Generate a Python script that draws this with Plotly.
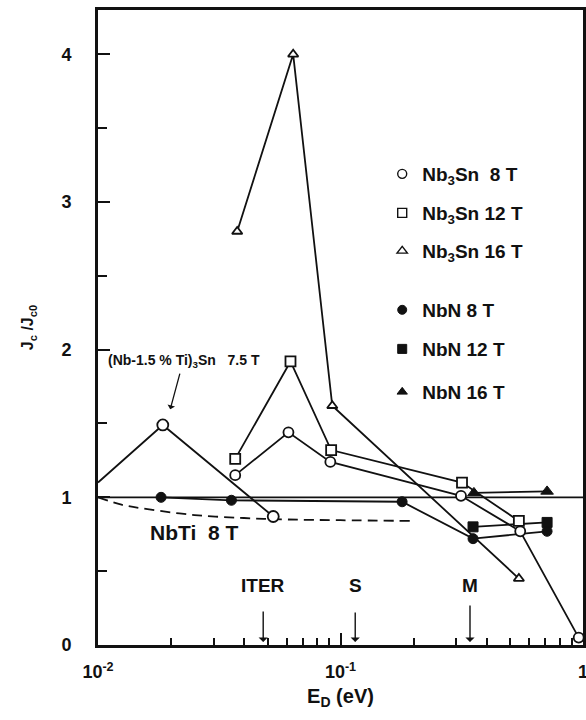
import math
import plotly.graph_objects as go

# Critical current ratio Jc/Jc0 versus damage energy E_D
NB3SN_8T_X = [0.0368, 0.061, 0.0908, 0.314, 0.551, 0.96]
NB3SN_8T_Y = [1.15, 1.44, 1.24, 1.01, 0.77, 0.05]
NB3SN_12T_X = [0.0368, 0.0622, 0.0915, 0.317, 0.544]
NB3SN_12T_Y = [1.26, 1.92, 1.32, 1.10, 0.84]
NB3SN_16T_X = [0.0375, 0.0638, 0.0925, 0.544]
NB3SN_16T_Y = [2.80, 4.00, 1.62, 0.45]
NBN_8T_X = [0.0182, 0.0355, 0.1795, 0.352, 0.711]
NBN_8T_Y = [1.00, 0.98, 0.97, 0.72, 0.77]
NBN_12T_X = [0.352, 0.711]
NBN_12T_Y = [0.80, 0.83]
NBN_16T_X = [0.355, 0.711]
NBN_16T_Y = [1.03, 1.04]
NBTI_SN_X = [0.01, 0.0185, 0.0528]
NBTI_SN_Y = [1.10, 1.49, 0.87]
NBTI_8T_X = [0.01, 0.0125, 0.016, 0.025, 0.04, 0.06, 0.1, 0.2]
NBTI_8T_Y = [1.00, 0.95, 0.92, 0.88, 0.86, 0.85, 0.845, 0.84]
REF_X = [0.01, 1.0]
REF_Y = [1.0, 1.0]

# Irradiation-source markers on the energy axis
SOURCE_LABELS = ["ITER", "S", "M"]
SOURCE_E = [0.048, 0.115, 0.342]

X_TICKS = [0.01, 0.1, 1]
X_TICK_TEXT = ["10<sup>-2</sup>", "10<sup>-1</sup>", "1"]
X_MINOR = [k * d for d in (0.01, 0.1) for k in range(2, 10)]

FONT = "Liberation Sans, Arial, sans-serif"
INK = "#111111"
LW = 1.8


def bold_font(size):
    return dict(family=FONT, size=size, color=INK, weight="bold")


fig = go.Figure()

fig.add_trace(go.Scatter(x=REF_X, y=REF_Y, mode="lines",
                         line=dict(color=INK, width=LW), showlegend=False))
fig.add_trace(go.Scatter(x=NBTI_8T_X, y=NBTI_8T_Y, mode="lines",
                         line=dict(color=INK, width=LW, dash="10px,6px", shape="spline"),
                         showlegend=False))


def marker_style(symbol, size, filled):
    if filled:
        return dict(symbol=symbol, size=size, color=INK, line=dict(color=INK, width=1))
    return dict(symbol=symbol, size=size, color="white", line=dict(color=INK, width=LW))


def series(x, y, symbol, size, filled, first_marker=0):
    fig.add_trace(go.Scatter(x=x, y=y, mode="lines", line=dict(color=INK, width=LW),
                             showlegend=False))
    fig.add_trace(go.Scatter(x=x[first_marker:], y=y[first_marker:], mode="markers",
                             marker=marker_style(symbol, size, filled), showlegend=False))


series(NBN_8T_X, NBN_8T_Y, "circle", 10, True)
series(NBN_12T_X, NBN_12T_Y, "square", 10, True)
series(NBN_16T_X, NBN_16T_Y, "triangle-up", 11, True)
series(NBTI_SN_X, NBTI_SN_Y, "circle", 11, False, first_marker=1)
series(NB3SN_16T_X, NB3SN_16T_Y, "triangle-up", 9, False)
series(NB3SN_12T_X, NB3SN_12T_Y, "square", 10, False)
series(NB3SN_8T_X, NB3SN_8T_Y, "circle", 10, False)

# Legend entries, one legend box per entry
legend_items = [
    ("Nb<sub>3</sub>Sn\u00a0\u00a08 T", "circle", False, 0.7417),
    ("Nb<sub>3</sub>Sn 12 T", "square", False, 0.6803),
    ("Nb<sub>3</sub>Sn 16 T", "triangle-up", False, 0.6205),
    ("NbN 8 T", "circle", True, 0.5276),
    ("NbN 12 T", "square", True, 0.4661),
    ("NbN 16 T", "triangle-up", True, 0.3984),
]
layout_legends = {}
for i, (name, sym, filled, ypos) in enumerate(legend_items):
    key = "legend" if i == 0 else f"legend{i + 1}"
    m = marker_style(sym, 9, filled)
    if not filled:
        m["line"] = dict(color=INK, width=1.4)
    fig.add_trace(go.Scatter(x=[None], y=[None], mode="markers", marker=m,
                             name=name, legend=key, showlegend=True))
    layout_legends[key] = dict(x=0.586, y=ypos, xanchor="left", yanchor="middle",
                               bgcolor="rgba(0,0,0,0)", borderwidth=0,
                               font=bold_font(19))

annotations = []
# source arrows
for lab, e, ay in zip(SOURCE_LABELS, SOURCE_E, [-32, -31, -38]):
    annotations.append(dict(x=math.log10(e), y=0.02, xref="x", yref="y", text="",
                            showarrow=True, ax=0, ay=ay, arrowhead=1, arrowsize=1.1,
                            arrowwidth=1.4, arrowcolor=INK))
    annotations.append(dict(x=math.log10(e), y=0.40, xref="x", yref="y", text=lab,
                            showarrow=False, font=bold_font(19)))

annotations.append(dict(x=-1.965, y=1.92, xref="x", yref="y", xanchor="left",
                        text="(Nb-1.5 % Ti)<sub>3</sub>Sn\u00a0\u00a0\u00a07.5 T",
                        showarrow=False, font=bold_font(14)))
annotations.append(dict(x=-1.702, y=1.597, xref="x", yref="y", text="",
                        showarrow=True, ax=10, ay=-37, arrowhead=1, arrowsize=1,
                        arrowwidth=1.3, arrowcolor=INK))
annotations.append(dict(x=-1.792, y=0.765, xref="x", yref="y", xanchor="left",
                        text="NbTi\u00a0\u00a08 T", showarrow=False,
                        font=bold_font(21)))

fig.update_layout(
    width=586, height=720,
    margin=dict(l=97.5, r=3, t=10, b=75, autoexpand=False),
    paper_bgcolor="white", plot_bgcolor="white",
    font=dict(family=FONT, color=INK),
    annotations=annotations,
    **layout_legends,
)

fig.update_xaxes(
    type="log", range=[-2, 0], automargin=False,
    tickmode="array", tickvals=X_TICKS, ticktext=X_TICK_TEXT,
    ticks="inside", ticklen=12, tickwidth=1.6, tickcolor=INK,
    minor=dict(tickmode="array", tickvals=X_MINOR, ticks="inside",
               ticklen=7, tickwidth=1.6, tickcolor=INK, showgrid=False),
    showline=True, linewidth=2.6, linecolor=INK, mirror=True,
    showgrid=False, zeroline=False,
    tickfont=bold_font(18), ticklabelstandoff=9, ticklabeloverflow="allow",
    title=dict(text="E<sub>D</sub> (eV)", font=bold_font(20), standoff=8),
)
fig.update_yaxes(
    range=[0, 4.3], automargin=False,
    tickmode="array", tickvals=[0, 1, 2, 3, 4],
    ticks="inside", ticklen=12, tickwidth=1.6, tickcolor=INK,
    minor=dict(tickmode="array", tickvals=[0.5, 1.5, 2.5, 3.5], ticks="inside",
               ticklen=9, tickwidth=1.6, tickcolor=INK, showgrid=False),
    showline=True, linewidth=2.6, linecolor=INK, mirror=True,
    showgrid=False, zeroline=False,
    tickfont=bold_font(18), ticklabelstandoff=20,
    title=dict(text="J<sub>c</sub> /J<sub>c0</sub>", font=bold_font(16), standoff=24),
)

fig.write_html("out.html")
